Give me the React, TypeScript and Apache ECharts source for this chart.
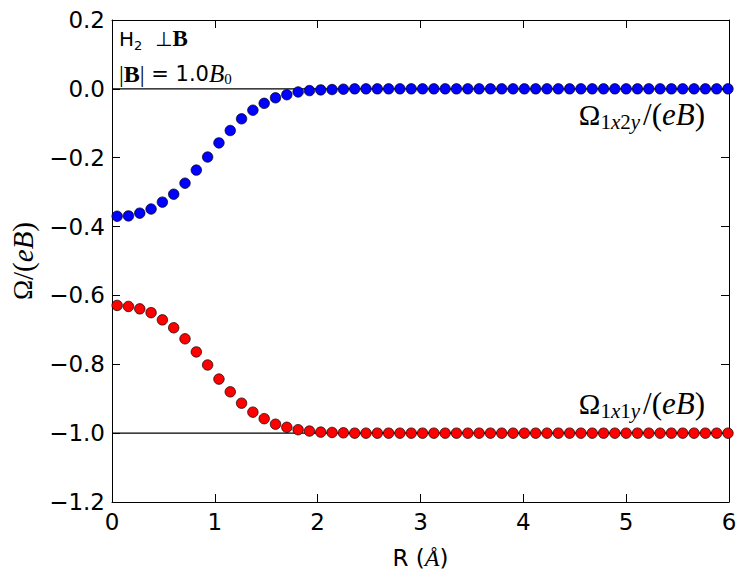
import React, { useEffect, useRef } from "react";
import * as echarts from "echarts";

const R_VALUES = [
  0.05, 0.16, 0.27, 0.38, 0.49, 0.6, 0.71, 0.82, 0.93, 1.04, 1.15, 1.26, 1.37, 1.48,
  1.59, 1.7, 1.81, 1.92, 2.03, 2.14, 2.25, 2.36, 2.47, 2.58, 2.69, 2.8, 2.91, 3.02,
  3.13, 3.24, 3.35, 3.46, 3.57, 3.68, 3.79, 3.9, 4.01, 4.12, 4.23, 4.34, 4.45, 4.56,
  4.67, 4.78, 4.89, 5.0, 5.11, 5.22, 5.33, 5.44, 5.55, 5.66, 5.77, 5.88, 5.99,
];

const OMEGA_1X2Y = [
  -0.37, -0.369, -0.361, -0.349, -0.329, -0.306, -0.274, -0.236, -0.198, -0.157,
  -0.121, -0.087, -0.062, -0.042, -0.026, -0.017, -0.009, -0.005, -0.003, -0.002,
  -0.001, 0, 0, 0, 0, 0, 0, 0, 0, 0, 0, 0, 0, 0, 0, 0, 0, 0, 0, 0, 0, 0, 0, 0, 0,
  0, 0, 0, 0, 0, 0, 0, 0, 0, 0,
];

const OMEGA_1X1Y = [
  -0.629, -0.632, -0.639, -0.65, -0.671, -0.694, -0.726, -0.764, -0.802, -0.843,
  -0.88, -0.913, -0.939, -0.958, -0.974, -0.983, -0.99, -0.994, -0.997, -0.998,
  -0.999, -1, -1, -1, -1, -1, -1, -1, -1, -1, -1, -1, -1, -1, -1, -1, -1, -1, -1,
  -1, -1, -1, -1, -1, -1, -1, -1, -1, -1, -1, -1, -1, -1, -1, -1,
];

const REF_LINES = [0, -1];

const X_MIN = 0;
const X_MAX = 6;
const Y_MIN = -1.2;
const Y_MAX = 0.2;

const SANS = "DejaVu Sans";
const SERIF = "Liberation Serif";

export default function App() {
  const ref = useRef<HTMLDivElement>(null);

  useEffect(() => {
    if (!ref.current) return;
    const chart = echarts.init(ref.current, null, { renderer: "svg" });

    const pts = (ys: number[]) => R_VALUES.map((r, i) => [r, ys[i]]);

    const axisCommon = {
      axisLine: { show: true, onZero: false, lineStyle: { color: "#000", width: 1 } },
      axisTick: { show: true, inside: true, length: 8, lineStyle: { color: "#000", width: 1 } },
      splitLine: { show: false },
    };

    const mathRich = {
      o: { fontFamily: SERIF, fontSize: 29, color: "#000", lineHeight: 36 },
      s: { fontFamily: SERIF, fontSize: 21, color: "#000", verticalAlign: "bottom", lineHeight: 16 },
      si: { fontFamily: SERIF, fontStyle: "italic", fontSize: 21, color: "#000", verticalAlign: "bottom", lineHeight: 16 },
      se: { fontFamily: SERIF, fontStyle: "italic", fontSize: 21, color: "#000", verticalAlign: "bottom", lineHeight: 16, padding: [0, 3, 0, 0] },
      n: { fontFamily: SERIF, fontSize: 31, color: "#000", lineHeight: 36 },
      i: { fontFamily: SERIF, fontStyle: "italic", fontSize: 31, color: "#000", lineHeight: 36 },
    };

    const option: any = {
      animation: false,
      backgroundColor: "#fff",
      grid: { left: 109, right: 17, top: 20, bottom: 77, containLabel: false },
      xAxis: [
        {
          type: "value",
          min: X_MIN,
          max: X_MAX,
          interval: 1,
          position: "bottom",
          ...axisCommon,
          axisLabel: { color: "#000", fontFamily: SANS, fontSize: 23, margin: 8 },
          name: "{a|R (}{b|Å}{a|)}",
          nameLocation: "middle",
          nameGap: 44,
          nameTextStyle: {
            rich: {
              a: { fontFamily: SANS, fontSize: 23, color: "#000" },
              b: { fontFamily: SERIF, fontStyle: "italic", fontSize: 24, color: "#000" },
            },
          },
        },
        {
          type: "value",
          min: X_MIN,
          max: X_MAX,
          interval: 1,
          position: "top",
          ...axisCommon,
          axisLabel: { show: false },
        },
      ],
      yAxis: [
        {
          type: "value",
          min: Y_MIN,
          max: Y_MAX,
          interval: 0.2,
          position: "left",
          ...axisCommon,
          axisLabel: {
            color: "#000",
            fontFamily: SANS,
            fontSize: 23,
            margin: 7,
            formatter: (v: number) => v.toFixed(1).replace("-", "\u2212"),
          },
          name: "{o|Ω}{n|/(}{i|eB}{n|)}",
          nameLocation: "middle",
          nameRotate: 90,
          nameGap: 75,
          nameTextStyle: {
            rich: {
              o: { fontFamily: SERIF, fontSize: 27, color: "#000" },
              n: { fontFamily: SERIF, fontSize: 29, color: "#000" },
              i: { fontFamily: SERIF, fontStyle: "italic", fontSize: 29, color: "#000" },
            },
          },
        },
        {
          type: "value",
          min: Y_MIN,
          max: Y_MAX,
          interval: 0.2,
          position: "right",
          ...axisCommon,
          axisLabel: { show: false },
        },
      ],
      series: [
        ...REF_LINES.map((y) => ({
          type: "line",
          data: [
            [X_MIN, y],
            [X_MAX, y],
          ],
          symbol: "none",
          silent: true,
          lineStyle: { color: "#000", width: 1.2 },
          z: 1,
        })),
        {
          type: "scatter",
          data: pts(OMEGA_1X2Y),
          symbol: "circle",
          symbolSize: 10.5,
          itemStyle: { color: "#0000ff", borderColor: "#000", borderWidth: 0.7, opacity: 1 },
          z: 3,
        },
        {
          type: "scatter",
          data: pts(OMEGA_1X1Y),
          symbol: "circle",
          symbolSize: 10.5,
          itemStyle: { color: "#ff0000", borderColor: "#000", borderWidth: 0.7, opacity: 1 },
          z: 3,
        },
      ],
      graphic: [
        {
          type: "text",
          left: 119,
          top: 27,
          style: {
            text: "{a|H}{s|2}{a|  ⊥}{b|B}",
            rich: {
              a: { fontFamily: SANS, fontSize: 20, color: "#000", lineHeight: 26 },
              s: { fontFamily: SANS, fontSize: 13, color: "#000", verticalAlign: "bottom", lineHeight: 13 },
              b: { fontFamily: SERIF, fontWeight: "bold", fontSize: 23, color: "#000", lineHeight: 26 },
            },
          },
        },
        {
          type: "text",
          left: 119,
          top: 61,
          style: {
            text: "{n||}{b|B}{n||}{a| = 1.0}{i|B}{s|0}",
            rich: {
              a: { fontFamily: SANS, fontSize: 21, color: "#000", lineHeight: 26 },
              n: { fontFamily: SERIF, fontSize: 24, color: "#000", lineHeight: 26 },
              b: { fontFamily: SERIF, fontWeight: "bold", fontSize: 24, color: "#000", lineHeight: 26 },
              i: { fontFamily: SERIF, fontStyle: "italic", fontSize: 25, color: "#000", lineHeight: 26 },
              s: { fontFamily: SERIF, fontSize: 15, color: "#000", verticalAlign: "bottom", lineHeight: 14 },
            },
          },
        },
        {
          type: "text",
          right: 41,
          top: 99,
          style: {
            text: "{o|Ω}{s|1}{si|x}{s|2}{se|y}{n|/(}{i|eB}{n|)}",
            rich: mathRich,
          },
        },
        {
          type: "text",
          right: 41,
          top: 388,
          style: {
            text: "{o|Ω}{s|1}{si|x}{s|1}{se|y}{n|/(}{i|eB}{n|)}",
            rich: mathRich,
          },
        },
      ],
    };

    chart.setOption(option);
    return () => chart.dispose();
  }, []);

  return (
    <div
      ref={ref}
      style={{ position: "absolute", left: 0, top: 0, width: 746, height: 579 }}
    />
  );
}
